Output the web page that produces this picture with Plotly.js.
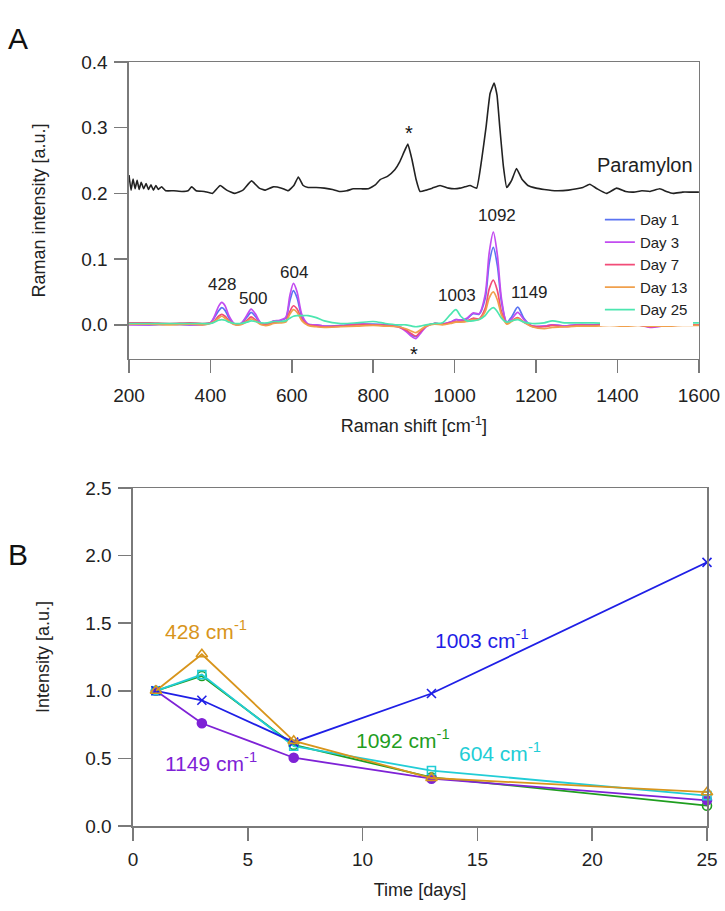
<!DOCTYPE html>
<html><head><meta charset="utf-8">
<script src="https://cdn.plot.ly/plotly-3.0.1.min.js"></script>
<style>html,body{margin:0;padding:0;background:#fff}#chart{width:725px;height:911px}</style>
</head><body><div id="chart"></div>
<script>
// ---- Panel A: Raman spectra ----
const shift = [200,250,300,350,380,400,410,420,428,436,
 446,460,475,490,500,510,525,540,555,570,
 585,595,604,613,625,640,660,680,720,760,
 800,830,860,880,895,905,915,930,950,970,
 990,1003,1015,1030,1045,1060,1075,1085,1095,1105,
 1115,1128,1140,1155,1170,1190,1220,1240,1270,1300,
 1340,1380,1420,1450,1480,1520,1560,1600];
const day1 = [0.001,0.000,0.001,0.000,0.001,0.003,0.011,0.021,0.026,0.022,
 0.010,0.001,0.002,0.012,0.019,0.013,0.002,0.001,0.004,0.006,
 0.010,0.036,0.052,0.041,0.012,0.001,0.000,-0.002,-0.001,0.001,
 0.001,0.000,-0.002,-0.008,-0.016,-0.018,-0.012,-0.002,0.002,0.001,
 0.004,0.008,0.007,0.009,0.017,0.016,0.040,0.094,0.118,0.090,
 0.035,0.004,0.012,0.027,0.010,-0.002,-0.002,0.000,-0.002,0.000,
 0.000,0.000,0.000,0.001,-0.003,0.000,0.000,0.000];
const day3 = [0.000,0.000,0.001,0.000,0.000,0.003,0.013,0.028,0.034,0.029,
 0.013,0.001,0.002,0.015,0.024,0.017,0.002,0.001,0.006,0.007,
 0.011,0.044,0.063,0.050,0.015,0.001,0.000,-0.002,-0.002,0.001,
 0.000,-0.001,-0.003,-0.010,-0.018,-0.021,-0.014,-0.003,0.002,0.001,
 0.004,0.008,0.007,0.010,0.018,0.017,0.046,0.110,0.141,0.106,
 0.040,0.004,0.009,0.019,0.008,-0.002,-0.002,0.000,-0.002,0.000,
 -0.001,0.000,0.000,0.000,-0.004,-0.001,0.000,0.000];
const day7 = [0.003,0.003,0.002,0.003,0.002,0.003,0.006,0.013,0.016,0.013,
 0.006,0.001,0.001,0.007,0.012,0.008,0.001,0.001,0.003,0.004,
 0.006,0.020,0.029,0.024,0.008,0.000,-0.002,-0.003,-0.002,0.000,
 0.000,-0.001,-0.003,-0.008,-0.014,-0.017,-0.011,-0.002,0.002,0.001,
 0.003,0.005,0.005,0.006,0.010,0.009,0.025,0.055,0.068,0.052,
 0.020,0.002,0.006,0.011,0.004,-0.002,-0.003,-0.001,-0.003,-0.001,
 -0.001,0.000,-0.001,0.000,-0.003,-0.001,0.000,0.000];
const day13 = [0.001,0.001,0.000,0.001,0.000,0.002,0.005,0.010,0.013,0.010,
 0.005,0.000,0.000,0.005,0.009,0.006,0.000,-0.001,0.002,0.003,
 0.004,0.016,0.023,0.019,0.006,-0.001,-0.003,-0.004,-0.003,-0.002,
 -0.001,-0.002,-0.003,-0.006,-0.010,-0.012,-0.008,-0.002,0.001,0.000,
 0.002,0.004,0.004,0.005,0.008,0.008,0.020,0.041,0.050,0.038,
 0.015,0.001,0.005,0.010,0.004,-0.003,-0.006,-0.004,-0.003,-0.002,
 -0.002,-0.001,-0.002,-0.001,-0.002,-0.002,-0.001,-0.001];
const day25 = [0.002,0.002,0.002,0.002,0.002,0.002,0.004,0.007,0.008,0.007,
 0.004,0.002,0.002,0.004,0.006,0.005,0.003,0.003,0.005,0.005,
 0.006,0.010,0.013,0.014,0.014,0.014,0.011,0.006,0.002,0.003,
 0.005,0.002,0.000,0.000,-0.002,-0.003,-0.002,0.000,0.002,0.003,
 0.016,0.023,0.013,0.006,0.006,0.008,0.014,0.022,0.026,0.020,
 0.010,0.004,0.006,0.008,0.004,0.002,0.003,0.006,0.003,0.003,
 0.003,0.002,0.003,0.006,0.004,0.003,0.003,0.003];
const paraShift = [200,205,210,215,220,225,230,236,242,248,
 254,260,266,272,280,290,310,330,345,354,
 365,385,405,424,440,460,480,501,520,534,
 554,575,591,605,616,628,640,660,680,700,
 718,735,751,770,788,805,817,835,853,865,
 875,885,895,905,915,930,945,964,985,1000,
 1013,1025,1038,1054,1066,1077,1087,1097,1104,1111,
 1120,1128,1140,1152,1165,1180,1200,1220,1250,1280,
 1300,1315,1332,1350,1373,1398,1420,1440,1460,1480,
 1504,1520,1537,1560,1580,1600];
const paramylon = [0.228,0.205,0.222,0.207,0.220,0.206,0.217,0.207,0.215,0.206,
 0.213,0.205,0.212,0.206,0.210,0.204,0.204,0.203,0.204,0.210,
 0.204,0.203,0.200,0.212,0.205,0.200,0.205,0.219,0.208,0.205,
 0.210,0.208,0.204,0.212,0.225,0.212,0.209,0.209,0.208,0.206,
 0.203,0.204,0.207,0.207,0.207,0.213,0.221,0.226,0.236,0.248,
 0.262,0.275,0.252,0.222,0.203,0.205,0.208,0.212,0.208,0.207,
 0.208,0.210,0.212,0.208,0.250,0.300,0.352,0.368,0.350,0.300,
 0.240,0.209,0.220,0.238,0.222,0.212,0.208,0.206,0.204,0.205,
 0.207,0.209,0.214,0.207,0.200,0.208,0.203,0.202,0.204,0.203,
 0.207,0.203,0.200,0.202,0.202,0.202];
const dayNames = ['Day 1','Day 3','Day 7','Day 13','Day 25'];
const dayColors = ['#5a73f2','#c24cf0','#f24c78','#f0a04c','#4ce6b0'];

// ---- Panel B: band intensities over time ----
const days = [1,3,7,13,25];
const band428 = [1.0,1.27,0.63,0.355,0.25];
const band604 = [1.0,1.12,0.59,0.41,0.225];
const band1003 = [1.0,0.93,0.62,0.98,1.95];
const band1092 = [1.0,1.11,0.60,0.36,0.15];
const band1149 = [1.0,0.76,0.505,0.35,0.19];

const FONT = 'Liberation Sans, Arial, sans-serif';
const traces = [];
traces.push({x: paraShift, y: paramylon, type:'scatter', mode:'lines', xaxis:'x', yaxis:'y',
  line:{color:'#222', width:1.6, shape:'spline', smoothing:0.35}, showlegend:false, hoverinfo:'skip'});
[day1,day3,day7,day13,day25].forEach((d,i)=>{
  traces.push({x: shift, y: d, type:'scatter', mode:'lines', name: dayNames[i], xaxis:'x', yaxis:'y',
    line:{color: dayColors[i], width:1.7, shape:'spline', smoothing:0.8}});
});
const bands = [
  {y: band1092, c:'#1f9e1f', sym:'circle-open', size:9},
  {y: band1149, c:'#7e22d6', sym:'circle', size:9},
  {y: band604, c:'#22cdd6', sym:'square-open', size:8},
  {y: band1003, c:'#1f1fe6', sym:'x-thin-open', size:9},
  {y: band428, c:'#d8951c', sym:'triangle-up-open', size:10}
];
bands.forEach(b=>{
  traces.push({x: days, y: b.y, type:'scatter', mode:'lines+markers', xaxis:'x2', yaxis:'y2',
    line:{color:b.c, width:1.8}, marker:{symbol:b.sym, size:b.size, color:b.c, line:{color:b.c, width:1.6}},
    showlegend:false, cliponaxis:false});
});

const axisCommon = {showline:true, linecolor:'#7a7a7a', linewidth:1.5, mirror:true, ticks:'outside',
  ticklen:13, tickwidth:1.5, tickcolor:'#7a7a7a', showgrid:false, zeroline:false,
  tickfont:{family:FONT, size:19, color:'#222'}};

const ann = (text,x,y,xref,yref,size,color,extra) => Object.assign({text, x, y, xref, yref, showarrow:false,
  font:{family:FONT, size, color}}, extra||{});

const annotations = [
  ann('A', -0.19, 1.055, 'paper','paper', 30, '#111', {xanchor:'center'}),
  ann('B', -0.19, 0.355, 'paper','paper', 30, '#111', {xanchor:'center'}),
  ann('428', 428, 0.061, 'x','y', 17, '#222'),
  ann('500', 505, 0.040, 'x','y', 17, '#222'),
  ann('604', 605, 0.080, 'x','y', 17, '#222'),
  ann('1003', 1005, 0.044, 'x','y', 17, '#222'),
  ann('1092', 1103, 0.167, 'x','y', 17, '#222'),
  ann('1149', 1183, 0.049, 'x','y', 17, '#222'),
  ann('*', 888, 0.292, 'x','y', 20, '#111'),
  ann('*', 901, -0.044, 'x','y', 20, '#111'),
  ann('Paramylon', 1467, 0.243, 'x','y', 20, '#222'),
  ann('428 cm<sup>-1</sup>', 3.2, 1.45, 'x2','y2', 21, '#d8951c'),
  ann('1149 cm<sup>-1</sup>', 3.4, 0.47, 'x2','y2', 21, '#7e22d6'),
  ann('1092 cm<sup>-1</sup>', 11.76, 0.64, 'x2','y2', 21, '#1f9e1f'),
  ann('604 cm<sup>-1</sup>', 16.0, 0.55, 'x2','y2', 21, '#22cdd6'),
  ann('1003 cm<sup>-1</sup>', 15.2, 1.38, 'x2','y2', 21, '#1f1fe6')
];

const layout = {
  width:725, height:911, paper_bgcolor:'#fff', plot_bgcolor:'#fff',
  margin:{l:128, r:18, t:62, b:85, pad:0},
  font:{family:FONT, color:'#222'},
  showlegend:true,
  legend:{x:0.815, y:0.815, xanchor:'left', yanchor:'top', bgcolor:'#fff', borderwidth:0,
    font:{family:FONT, size:15, color:'#222'}, tracegroupgap:0},
  xaxis: Object.assign({}, axisCommon, {domain:[0.0017,0.986], range:[200,1600], dtick:200, tick0:200, anchor:'y',
    ticklabelstandoff:6,
    title:{text:'Raman shift [cm<sup>-1</sup>]', font:{family:FONT, size:18, color:'#222'}, standoff:14}}),
  yaxis: Object.assign({}, axisCommon, {domain:[0.6113,1], range:[-0.052,0.4], dtick:0.1, tickformat:'.1f', anchor:'x',
    ticklabelstandoff:3,
    title:{text:'Raman intensity [a.u.]', font:{family:FONT, size:18, color:'#222'}, standoff:31}}),
  xaxis2: Object.assign({}, axisCommon, {domain:[0.0086,1], range:[0,25], dtick:5, anchor:'y2',
    ticklabelstandoff:3,
    title:{text:'Time [days]', font:{family:FONT, size:18, color:'#222'}, standoff:14}}),
  yaxis2: Object.assign({}, axisCommon, {domain:[0,0.4424], range:[0,2.5], dtick:0.5, tickformat:'.1f', anchor:'x2',
    ticklabelstandoff:3,
    title:{text:'Intensity [a.u.]', font:{family:FONT, size:18, color:'#222'}, standoff:31}}),
  annotations
};
Plotly.newPlot('chart', traces, layout, {displayModeBar:false, staticPlot:true});
</script></body></html>
